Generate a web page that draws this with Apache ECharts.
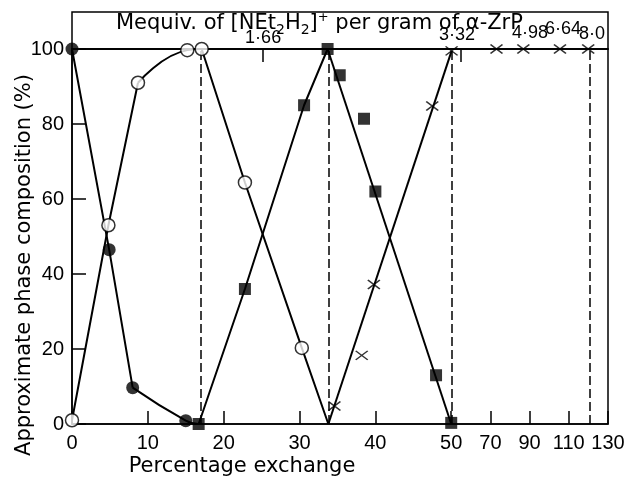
<!DOCTYPE html>
<html>
<head>
<meta charset="utf-8">
<script src="https://cdn.jsdelivr.net/npm/echarts@6/dist/echarts.min.js"></script>
<style>
  html, body { margin: 0; padding: 0; background: #fff; }
  #chart { width: 631px; height: 479px; }
</style>
</head>
<body>
<div id="chart"></div>
<script>
// x axis is broken at 50: above it, 20 units take about the room of 5
const X_SPLIT = 50;
const X_SQUEEZE = 3.87;
function fx(x) { return x <= X_SPLIT ? x : X_SPLIT + (x - X_SPLIT) / X_SQUEEZE; }
function fxInv(u) { return u <= X_SPLIT ? u : X_SPLIT + (u - X_SPLIT) * X_SQUEEZE; }

const xTicks = [0, 10, 20, 30, 40, 50, 70, 90, 110, 130];
const topTickLabels = ['1·66', '3·32', '4·98', '6·64', '8·0'];
const topLabelAt = [25.2, 52.9, 90.2, 107, 121.8];
const topTickAt = [25.2, 55];

// markers
const openCircleX = [0, 4.8, 8.7, 15.2, 17.1, 22.8, 30.3];
const openCircleY = [1, 53, 91, 99.7, 100, 64.4, 20.3];
const filledCircleX = [0, 4.9, 8.0, 15.0];
const filledCircleY = [100, 46.5, 9.7, 0.9];
const squareX = [16.7, 22.8, 30.6, 33.7, 35.3, 38.5, 40.0, 48.0, 50.0];
const squareY = [0, 36, 85, 100, 93, 81.4, 62, 13, 0.3];
const crossX = [34.6, 38.2, 39.8, 47.5, 50.2, 73.1, 86.8, 105.5, 119.9];
const crossY = [4.8, 18.3, 37.2, 84.8, 99.5, 100, 100, 100, 100];

// drawn lines
const openRise = [[0, 1], [4.8, 53], [8.7, 91]];
const openArc = [[8.7, 91], [15.2, 99.7], [17.1, 100]];
const openFall = [[17.1, 100], [22.8, 64.4], [30.3, 20.3], [33.8, 0]];
const filledFall = [[0, 100], [4.9, 46.5], [8.0, 9.7]];
const filledArc = [[8.0, 9.7], [15.0, 0.9], [16.7, 0]];
const squareRise = [[16.7, 0], [22.8, 36], [30.6, 85], [33.7, 100]];
const squareFall = [[33.7, 100], [50, 0]];
const crossRise = [[33.8, 0], [50.2, 99.5]];

const dashedAt = [17, 33.8, 50.1, 120.7];

const GRID = { left: 72, right: 23, top: 49, bottom: 55 };
const HEAD_TOP = 12;
const TOP_LABEL_LIFT = [2, 5, 7, 11, 6];
const FONT_NUM = 'Liberation Sans';
const FONT_TXT = 'DejaVu Sans';

const chart = echarts.init(document.getElementById('chart'));

function pts(xs, ys) { return xs.map((x, i) => [fx(x), ys[i]]); }
function path(arr) { return arr.map(p => [fx(p[0]), p[1]]); }

function lineSeries(arr, smooth) {
  return {
    type: 'line',
    data: path(arr),
    smooth: smooth ? 0.5 : false,
    showSymbol: false,
    silent: true,
    lineStyle: { color: '#000', width: 2 },
    z: 2
  };
}

const W = 631 - GRID.left - GRID.right;

chart.setOption({
  animation: false,
  backgroundColor: '#fff',
  title: {
    text: 'Mequiv. of [NEt{s|2}H{s|2}]{p|+} per gram of α-ZrP',
    left: 116,
    top: 11,
    padding: 0,
    textStyle: {
      fontFamily: FONT_TXT,
      fontSize: 21,
      fontWeight: 'normal',
      color: '#000',
      lineHeight: 26,
      rich: {
        s: { fontFamily: FONT_TXT, fontSize: 14, lineHeight: 14, verticalAlign: 'bottom', color: '#000' },
        p: { fontFamily: FONT_TXT, fontSize: 13, lineHeight: 13, verticalAlign: 'top', color: '#000' }
      }
    }
  },
  grid: {
    left: GRID.left, right: GRID.right, top: GRID.top, bottom: GRID.bottom,
    show: true, borderColor: '#000', borderWidth: 1.5, backgroundColor: 'transparent'
  },
  graphic: [
    {
      id: 'head',
      type: 'rect',
      shape: { x: GRID.left, y: HEAD_TOP, width: W, height: GRID.top - HEAD_TOP },
      style: { fill: 'none', stroke: '#000', lineWidth: 1.5 },
      silent: true
    },
    {
      id: 'xname',
      type: 'text',
      x: 242, y: 467,
      style: { text: 'Percentage exchange', font: '21px "DejaVu Sans"', fill: '#000', textAlign: 'center', textVerticalAlign: 'middle' },
      silent: true
    },
    {
      id: 'yname',
      type: 'text',
      x: 25, y: 265, rotation: Math.PI / 2,
      style: { text: 'Approximate phase composition (%)', font: '21px "DejaVu Sans"', fill: '#000', textAlign: 'center', textVerticalAlign: 'middle' },
      silent: true
    }
  ],
  xAxis: [
    {
      type: 'value',
      position: 'bottom',
      min: 0,
      max: fx(130),
      axisLine: { show: true, lineStyle: { color: '#000', width: 1.5 } },
      axisTick: { show: true, inside: true, length: 13, customValues: xTicks.map(fx), lineStyle: { color: '#000', width: 1.5 } },
      axisLabel: {
        customValues: xTicks.map(fx),
        formatter: v => String(Math.round(fxInv(v))),
        hideOverlap: false,
        showMinLabel: true,
        showMaxLabel: true,
        color: '#000', fontFamily: FONT_NUM, fontSize: 20, margin: 9
      },
      splitLine: { show: false }
    },
    {
      type: 'value',
      position: 'top',
      min: 0,
      max: fx(130),
      axisLine: { show: true, lineStyle: { color: '#000', width: 1.5 } },
      axisTick: { show: true, inside: true, length: 13, customValues: topTickAt.map(fx), lineStyle: { color: '#000', width: 1.5 } },
      axisLabel: { show: false },
      splitLine: { show: false }
    }
  ],
  yAxis: {
    type: 'value',
    min: 0,
    max: 100,
    interval: 20,
    axisLine: { show: true, lineStyle: { color: '#000', width: 1.5 } },
    axisTick: { show: true, inside: true, length: 14, lineStyle: { color: '#000', width: 1.5 } },
    axisLabel: { color: '#000', fontFamily: FONT_NUM, fontSize: 20, margin: 8 },
    splitLine: { show: false }
  },
  series: [
    lineSeries(openRise, false),
    lineSeries(openArc, true),
    lineSeries(openFall, false),
    lineSeries(filledFall, false),
    lineSeries(filledArc, true),
    lineSeries(squareRise, false),
    lineSeries(squareFall, false),
    lineSeries(crossRise, false),
    {
      type: 'line',
      data: [],
      silent: true,
      markLine: {
        silent: true,
        symbol: 'none',
        label: { show: false },
        lineStyle: { color: '#000', width: 1.5, type: [9, 4] },
        data: dashedAt.map(x => ({ xAxis: fx(x) }))
      }
    },
    {
      type: 'scatter',
      data: pts(filledCircleX, filledCircleY),
      symbol: 'circle',
      symbolSize: 13,
      itemStyle: { color: '#000' },
      z: 5
    },
    {
      type: 'scatter',
      data: pts(openCircleX, openCircleY),
      symbol: 'circle',
      symbolSize: 13,
      itemStyle: { color: '#fff', borderColor: '#000', borderWidth: 1.5 },
      z: 5
    },
    {
      type: 'scatter',
      data: pts(squareX, squareY),
      symbol: 'rect',
      symbolSize: 12,
      itemStyle: { color: '#000' },
      z: 5
    },
    {
      type: 'scatter',
      data: pts(crossX, crossY),
      symbol: 'path://M0,0L12,9M12,0L0,9',
      symbolSize: [12, 9],
      itemStyle: { color: 'transparent', borderColor: '#000', borderWidth: 1.5 },
      z: 5
    }
  ]
});

// top (mequiv) labels crowd each other, so place them as free texts at their axis positions
chart.setOption({
  graphic: topTickLabels.map((t, i) => ({
    id: 'top' + i,
    type: 'text',
    x: chart.convertToPixel({ xAxisIndex: 1 }, fx(topLabelAt[i])),
    y: GRID.top - TOP_LABEL_LIFT[i],
    style: { text: t, font: '18px "Liberation Sans"', fill: '#000', textAlign: 'center', textVerticalAlign: 'bottom' },
    silent: true
  }))
});
</script>
</body>
</html>
